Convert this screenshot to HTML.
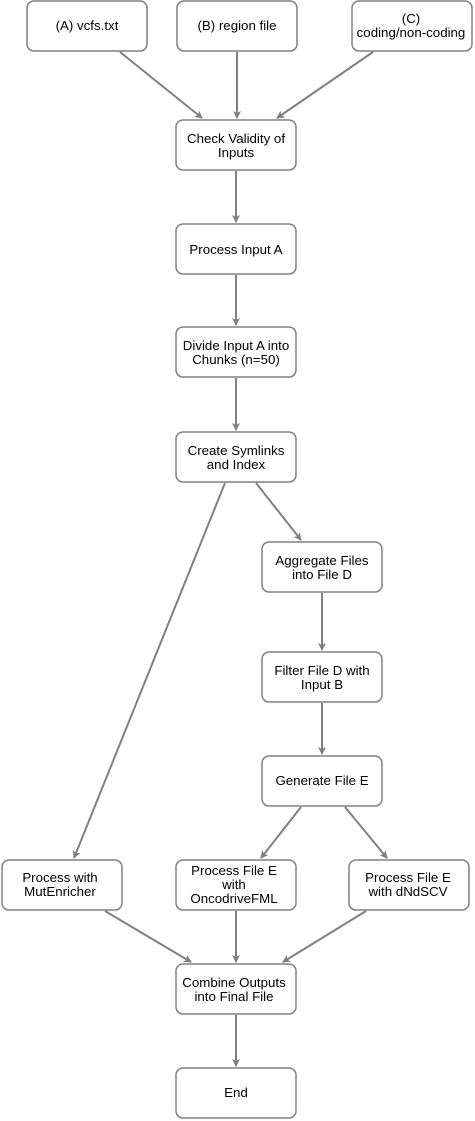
<!DOCTYPE html>
<html><head><meta charset="utf-8"><style>
html,body{margin:0;padding:0;background:#fff;}
svg{display:block;font-family:"Liberation Sans",Arial,sans-serif;font-size:13.3px;}
</style></head><body>
<svg width="475" height="1121" viewBox="0 0 475 1121" xmlns="http://www.w3.org/2000/svg">
<defs><marker id="a" markerWidth="10" markerHeight="10" refX="7" refY="4" orient="auto" markerUnits="userSpaceOnUse"><path d="M0,0 L8,4 L0,8 L2,4 Z" fill="#808080"/></marker></defs>
<g fill="#fff" stroke="#808080" stroke-width="1.5">
<rect x="27" y="1" width="120" height="50" rx="7"/>
<rect x="177" y="1" width="120" height="50" rx="7"/>
<rect x="352" y="1" width="120" height="50" rx="7"/>
<rect x="176" y="120" width="120" height="50" rx="7"/>
<rect x="176" y="224" width="120" height="50" rx="7"/>
<rect x="176" y="327" width="120" height="50" rx="7"/>
<rect x="176" y="432" width="120" height="50" rx="7"/>
<rect x="262" y="542" width="120" height="50" rx="7"/>
<rect x="262" y="652" width="120" height="50" rx="7"/>
<rect x="262" y="756" width="120" height="50" rx="7"/>
<rect x="2" y="860" width="120" height="50" rx="7"/>
<rect x="176" y="860" width="120" height="50" rx="7"/>
<rect x="349" y="860" width="120" height="50" rx="7"/>
<rect x="176" y="964" width="120" height="50" rx="7"/>
<rect x="176" y="1068" width="120" height="50" rx="7"/>
</g>
<g stroke="#808080" stroke-width="2" fill="none" marker-end="url(#a)">
<line x1="120" y1="52" x2="202" y2="118"/>
<line x1="237" y1="52" x2="237" y2="118"/>
<line x1="373" y1="52" x2="277" y2="118"/>
<line x1="236" y1="171" x2="236" y2="222"/>
<line x1="236" y1="275" x2="236" y2="325"/>
<line x1="236" y1="378" x2="236" y2="430"/>
<line x1="225" y1="483" x2="74" y2="858"/>
<line x1="256" y1="483" x2="301" y2="540"/>
<line x1="322" y1="593" x2="322" y2="650"/>
<line x1="322" y1="703" x2="322" y2="754"/>
<line x1="301" y1="807" x2="261" y2="858"/>
<line x1="345" y1="807" x2="387" y2="858"/>
<line x1="105" y1="911" x2="191" y2="962"/>
<line x1="236" y1="911" x2="236" y2="962"/>
<line x1="366" y1="911" x2="283" y2="962"/>
<line x1="236" y1="1015" x2="236" y2="1066"/>
</g>
<g fill="#000" text-anchor="middle">
<text x="87" y="30">(A) vcfs.txt</text>
<text x="237" y="30">(B) region file</text>
<text x="411" y="23">(C)</text><text x="411" y="37">coding/non-coding</text>
<text x="236" y="143">Check Validity of</text><text x="236" y="157">Inputs</text>
<text x="236" y="254">Process Input A</text>
<text x="236" y="350">Divide Input A into</text><text x="236" y="364">Chunks (n=50)</text>
<text x="236" y="455">Create Symlinks</text><text x="236" y="469">and Index</text>
<text x="322" y="565">Aggregate Files</text><text x="322" y="579">into File D</text>
<text x="322" y="675">Filter File D with</text><text x="322" y="689">Input B</text>
<text x="322" y="785">Generate File E</text>
<text x="60" y="882">Process with</text><text x="60" y="896">MutEnricher</text>
<text x="234" y="875">Process File E</text><text x="234" y="889">with</text><text x="234" y="903">OncodriveFML</text>
<text x="408" y="882">Process File E</text><text x="408" y="896">with dNdSCV</text>
<text x="234" y="987">Combine Outputs</text><text x="234" y="1001">into Final File</text>
<text x="236" y="1097">End</text>
</g>
</svg>
</body></html>
